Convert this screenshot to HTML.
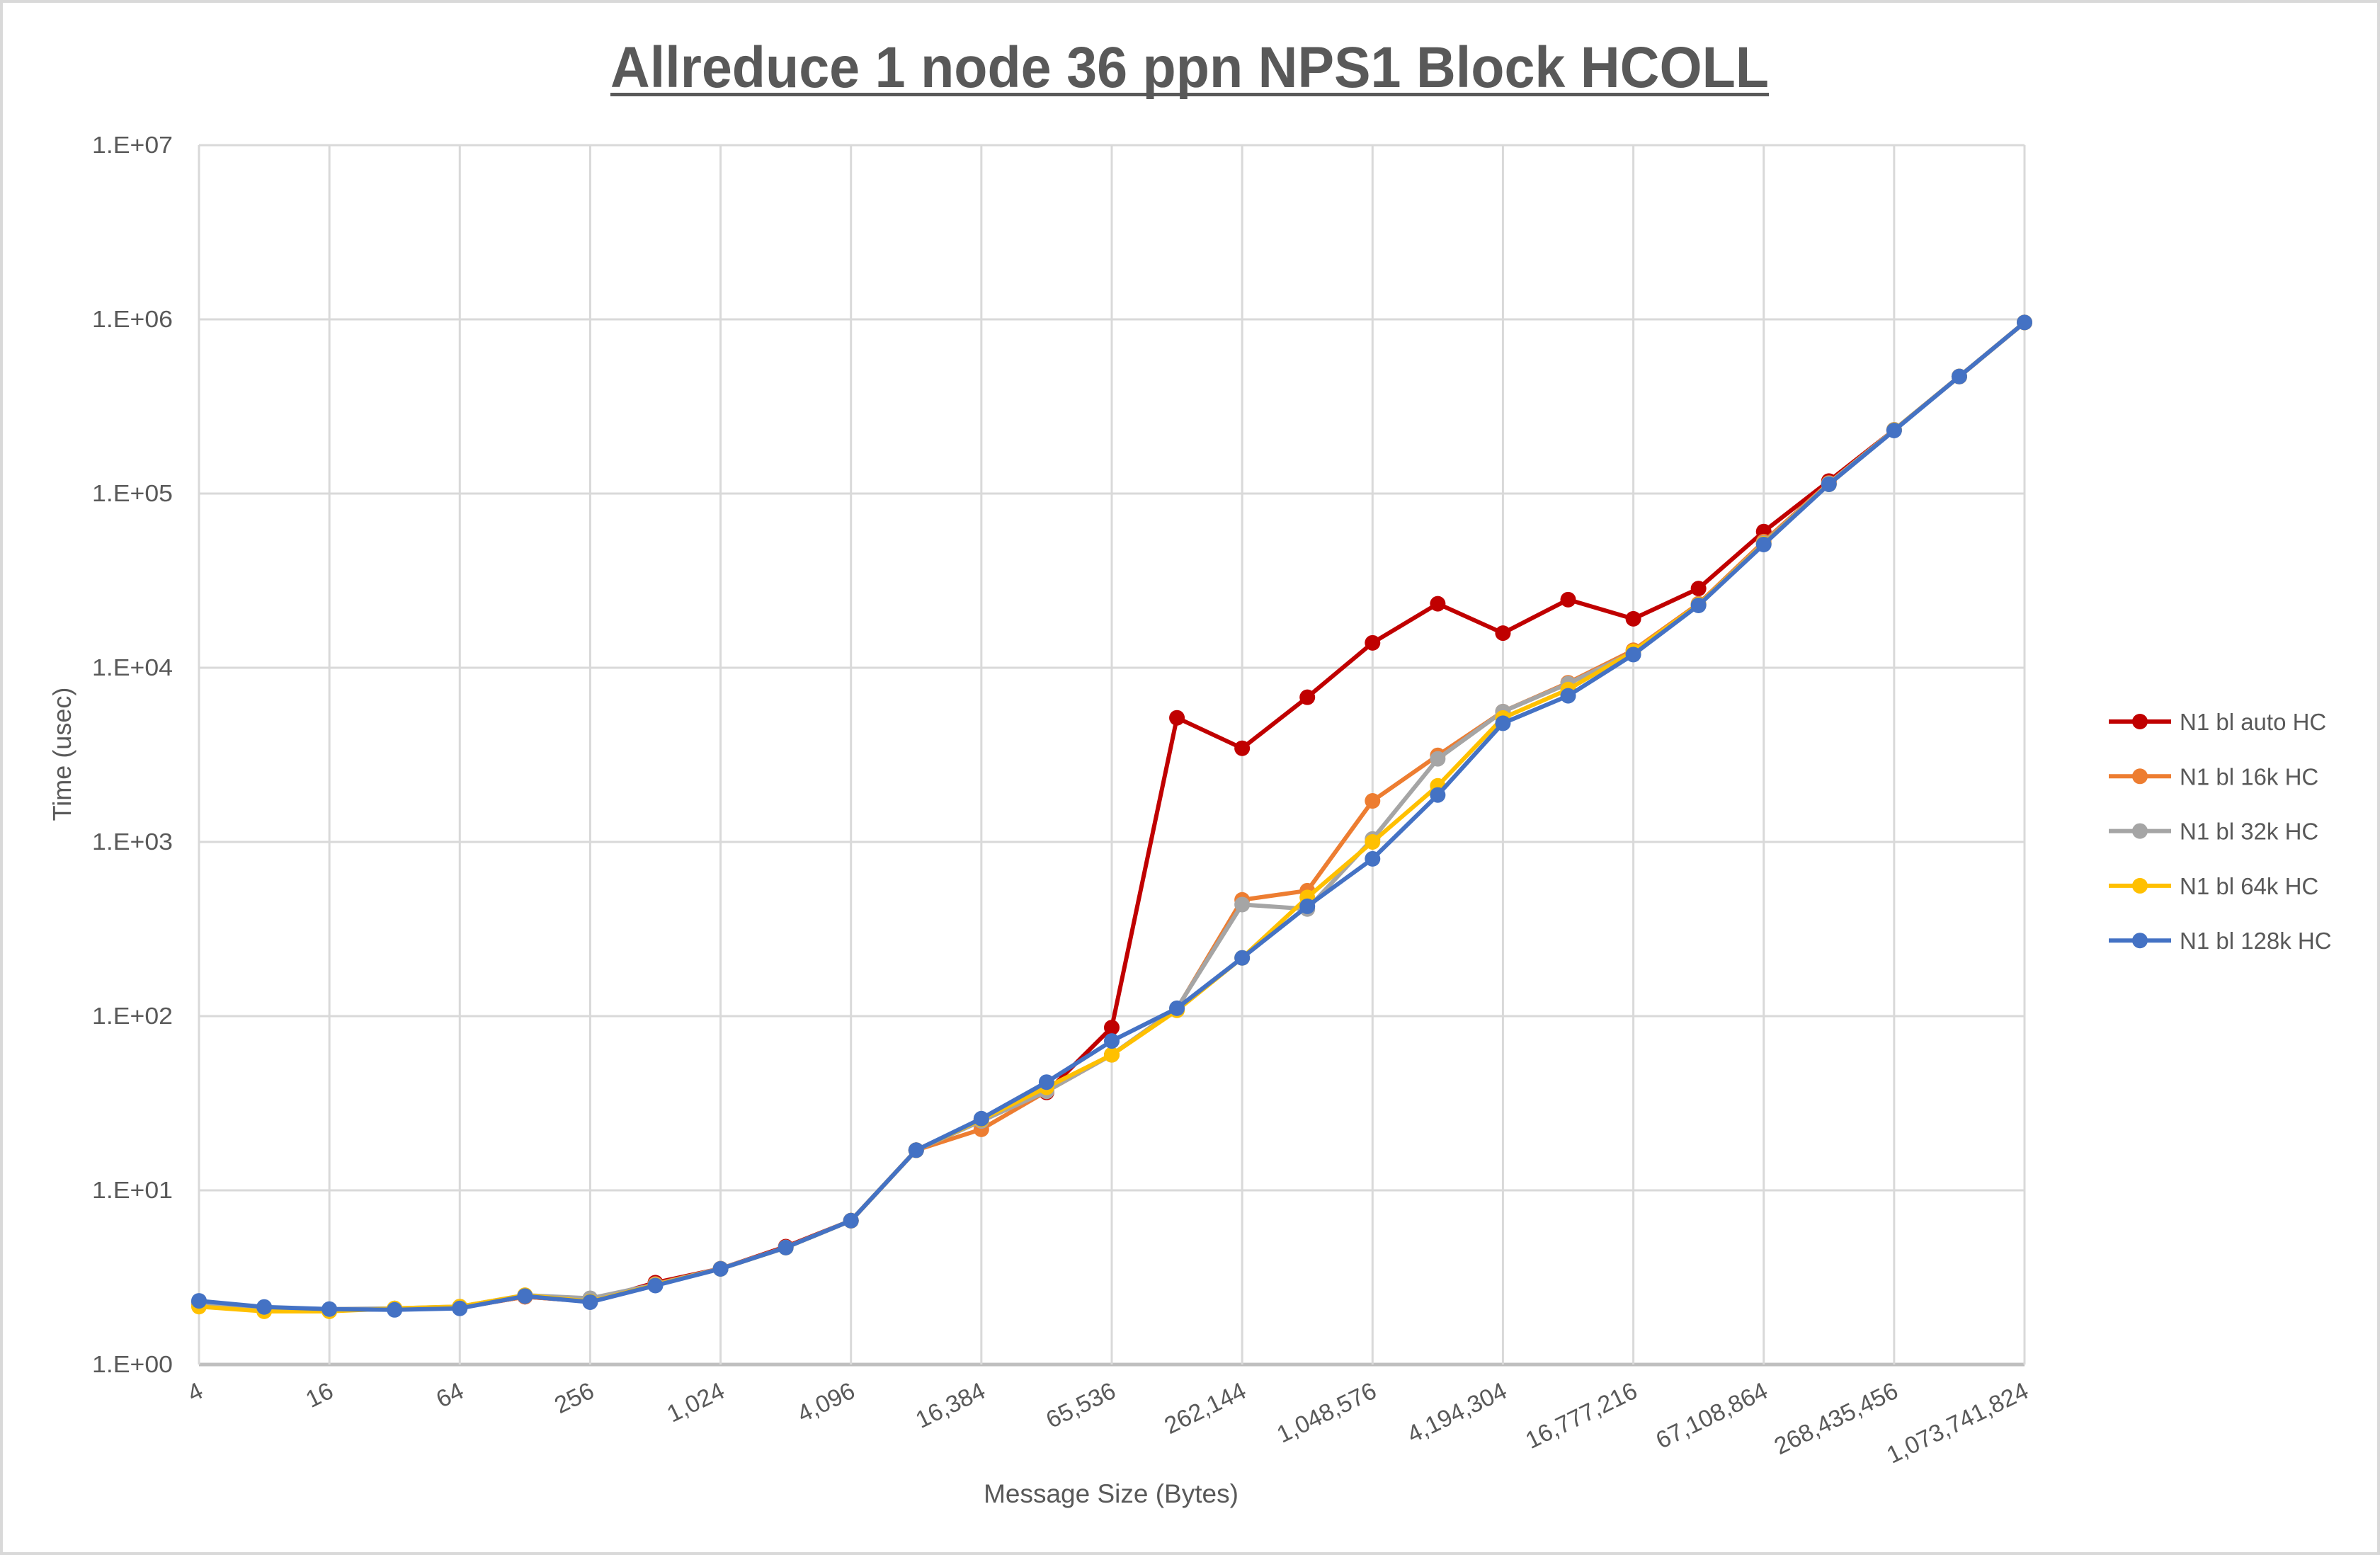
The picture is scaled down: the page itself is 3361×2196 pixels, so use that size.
<!DOCTYPE html>
<html><head><meta charset="utf-8"><style>
html,body{margin:0;padding:0;background:#fff;}
svg{display:block;font-family:"Liberation Sans",sans-serif;}
</style></head><body>
<svg id="chart" width="3361" height="2196" viewBox="0 0 3361 2196" xmlns="http://www.w3.org/2000/svg">
<rect x="2" y="2" width="3357" height="2192" fill="#fff" stroke="#d9d9d9" stroke-width="4"/>
<text x="862" y="123" font-size="82" font-weight="bold" fill="#595959" textLength="1636" lengthAdjust="spacingAndGlyphs">Allreduce 1 node 36 ppn NPS1 Block HCOLL</text>
<rect x="862" y="131" width="1636" height="5" fill="#595959"/>
<g id="grid"></g>
<g id="series"></g>
<g id="axes"></g>
<g id="legend"></g>
<text x="1569" y="2122" font-size="37" fill="#595959" text-anchor="middle">Message Size (Bytes)</text>
<text x="0" y="0" font-size="36" fill="#595959" text-anchor="middle" transform="translate(100,1065) rotate(-90)">Time (usec)</text>
</svg>
<script>
const categories = ["4","8","16","32","64","128","256","512","1,024","2,048","4,096","8,192","16,384","32,768","65,536","131,072","262,144","524,288","1,048,576","2,097,152","4,194,304","8,388,608","16,777,216","33,554,432","67,108,864","134,217,728","268,435,456","536,870,912","1,073,741,824"];
const yTickLabels = ["1.E+00","1.E+01","1.E+02","1.E+03","1.E+04","1.E+05","1.E+06","1.E+07"];
const seriesNames = ["N1 bl auto HC","N1 bl 16k HC","N1 bl 32k HC","N1 bl 64k HC","N1 bl 128k HC"];
const autoHC = [2.25,2.12,2.06,2.08,2.12,2.45,2.3,2.95,3.55,4.75,6.7,17,25.5,36.5,86,5160,3450,6770,13900,23300,15800,24600,19100,28500,60500,118000,232000,470000,960000];
const hc16k = [2.25,2.12,2.06,2.08,2.12,2.45,2.3,2.9,3.55,4.7,6.7,17,22.4,37,60,110,465,525,1720,3140,5600,8200,12600,23300,53000,115000,232000,470000,960000];
const hc32k = [2.25,2.12,2.08,2.1,2.15,2.5,2.4,2.88,3.55,4.7,6.7,17,25,37,60,111,437,412,1040,3000,5600,8100,12300,23000,52000,114000,232000,470000,960000];
const hc64k = [2.15,2.02,2.02,2.1,2.15,2.5,2.3,2.86,3.54,4.69,6.7,17,25.5,39,60,108,216,480,1000,2100,5150,7500,12400,23000,51500,113000,231000,470000,960000];
const hc128k = [2.32,2.14,2.08,2.06,2.1,2.47,2.28,2.84,3.54,4.69,6.7,17,25.8,41.8,72,111,216,427,800,1860,4800,6900,11900,22800,51000,113000,230000,470000,960000];
const colors = ["#C00000","#ED7D31","#A5A5A5","#FFC000","#4472C4"];
const allSeries = [autoHC,hc16k,hc32k,hc64k,hc128k];

const NS="http://www.w3.org/2000/svg";
const X0=281, X1=2859, Y0=1927, Y1=205;
function xPos(i){return X0+(X1-X0)*i/(categories.length-1);}
function yPos(v){return Y0-(Y0-Y1)*Math.log10(v)/7;}
function mk(tag,attrs,parent){const e=document.createElementNS(NS,tag);for(const k in attrs)e.setAttribute(k,attrs[k]);parent.appendChild(e);return e;}

const grid=document.getElementById('grid');
for(let k=0;k<yTickLabels.length;k++){
  const y=Y0-(Y0-Y1)*k/7;
  const l=mk('line',{x1:X0,x2:X1,y1:y,y2:y,stroke:k===0?'#bfbfbf':'#d9d9d9','stroke-width':k===0?5:3},grid);
  
  
}
for(let i=0;i<categories.length;i+=2){
  const x=xPos(i);
  const l=mk('line',{x1:x,x2:x,y1:Y1,y2:Y0,stroke:'#d9d9d9','stroke-width':3},grid);
  
  
}
const axes=document.getElementById('axes');
for(let k=0;k<yTickLabels.length;k++){
  const y=Y0-(Y0-Y1)*k/7;
  const t=mk('text',{x:244,y:y+11,'font-size':33,fill:'#595959','text-anchor':'end',textLength:114,lengthAdjust:'spacingAndGlyphs'},axes);
  t.textContent=yTickLabels[k];
  
  
}
for(let i=0;i<categories.length;i+=2){
  const x=xPos(i)+8, y=1972;
  const t=mk('text',{x:0,y:0,'font-size':34,fill:'#595959','text-anchor':'end',transform:`translate(${x},${y}) rotate(-26)`},axes);
  t.textContent=categories[i];
  
  
}
const sg=document.getElementById('series');
allSeries.forEach((data,s)=>{
  const g=mk('g',{},sg);
  
  
  const pts=data.map((v,i)=>xPos(i).toFixed(1)+','+yPos(v).toFixed(1)).join(' ');
  const pl=mk('polyline',{points:pts,fill:'none',stroke:colors[s],'stroke-width':6,'stroke-linejoin':'round'},g);
  
  
  data.forEach((v,i)=>{
    const c=mk('circle',{cx:xPos(i),cy:yPos(v),r:11,fill:colors[s]},g);
    
    
  });
});
const lg=document.getElementById('legend');
seriesNames.forEach((n,s)=>{
  const y=1019+s*77.3;
  const g=mk('g',{},lg);
  
  
  mk('line',{x1:2978,x2:3066,y1:y,y2:y,stroke:colors[s],'stroke-width':6},g);
  mk('circle',{cx:3022,cy:y,r:11,fill:colors[s]},g);
  const t=mk('text',{x:3078,y:y+12,'font-size':33,fill:'#595959'},g);
  t.textContent=n;
});
</script>
</body></html>
